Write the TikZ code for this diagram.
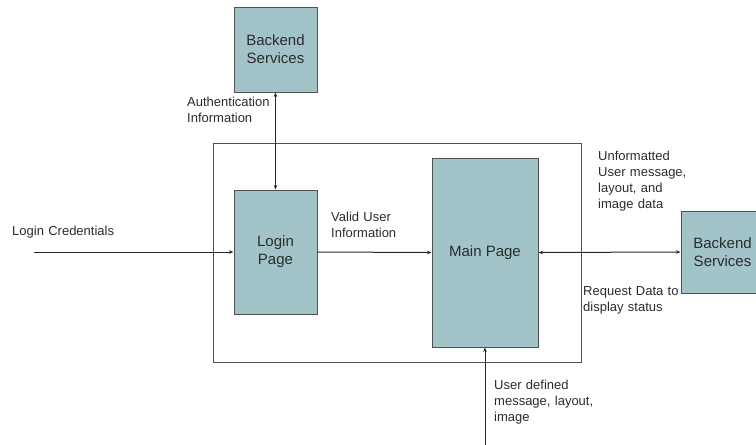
\documentclass[tikz,border=0pt]{standalone}
\usepackage{fontspec}
\setmainfont{Liberation Sans}
\usetikzlibrary{arrows.meta}

\definecolor{boxfill}{HTML}{A2C4C9}
\definecolor{boxline}{HTML}{505050}
\definecolor{inkgray}{HTML}{2B2B2B}

\tikzset{
  block/.style={draw=boxline, line width=1pt, fill=boxfill, align=center,
    text=inkgray, inner sep=0pt, font=\fontsize{15}{18}\selectfont},
  frame/.style={draw=boxline, line width=0.9pt, inner sep=0pt},
  flow/.style={draw=black!85, line width=1pt, -{Stealth[length=4.5pt,width=3.5pt]}},
  twoway/.style={draw=black!85, line width=1pt,
    {Stealth[length=4.5pt,width=3.5pt]}-{Stealth[length=4.5pt,width=3.5pt]}},
  lbl/.style={anchor=base west, inner sep=0pt, align=left, text width=104pt,
    text=inkgray, font=\fontsize{13}{16}\selectfont}
}

\begin{document}
\begin{tikzpicture}[x=1pt, y=-1pt]
  \useasboundingbox (0,0) rectangle (756,445);
  \clip (0,0) rectangle (756,445);

  % enclosing frame of the client application
  \node[frame, minimum width=368pt, minimum height=219pt] (app) at (397,252.5) {};

  % blocks
  \node[block, minimum width=83pt, minimum height=85pt] (authsrv) at (275.5,49.5) {Backend\\Services};
  \node[block, minimum width=83pt, minimum height=124pt] (login) at (275.5,252) {Login\\Page};
  \node[block, minimum width=106pt, minimum height=189pt] (main) at (485,252.5) {Main Page};
  \node[block, minimum width=83pt, minimum height=82pt] (datasrv) at (722.5,252) {Backend\\Services};

  % free ends of the outside inputs
  \coordinate (credin) at (34,252);
  \coordinate (userin) at (485,447);

  % connectors
  \draw[flow] (credin) -- (login.west);
  \draw[twoway] (authsrv.south) -- (login.north);
  \draw[flow] (login.east) -- (main.west);
  \draw[twoway] (main.east) -- (datasrv.west);
  \draw[flow] (userin) -- (main.south);

  % labels
  \node[lbl] (lcred) at (12,235) {Login Credentials};
  \node[lbl] (lauth) at (187,106) {Authentication\\Information};
  \node[lbl] (lvalid) at (331,221) {Valid User\\Information};
  \node[lbl] (lunfmt) at (598,160) {Unformatted\\User message,\\layout, and\\image data};
  \node[lbl] (lreq) at (583,295) {Request Data to\\display status};
  \node[lbl] (luser) at (494,389) {User defined\\message, layout,\\image};
\end{tikzpicture}
\end{document}
